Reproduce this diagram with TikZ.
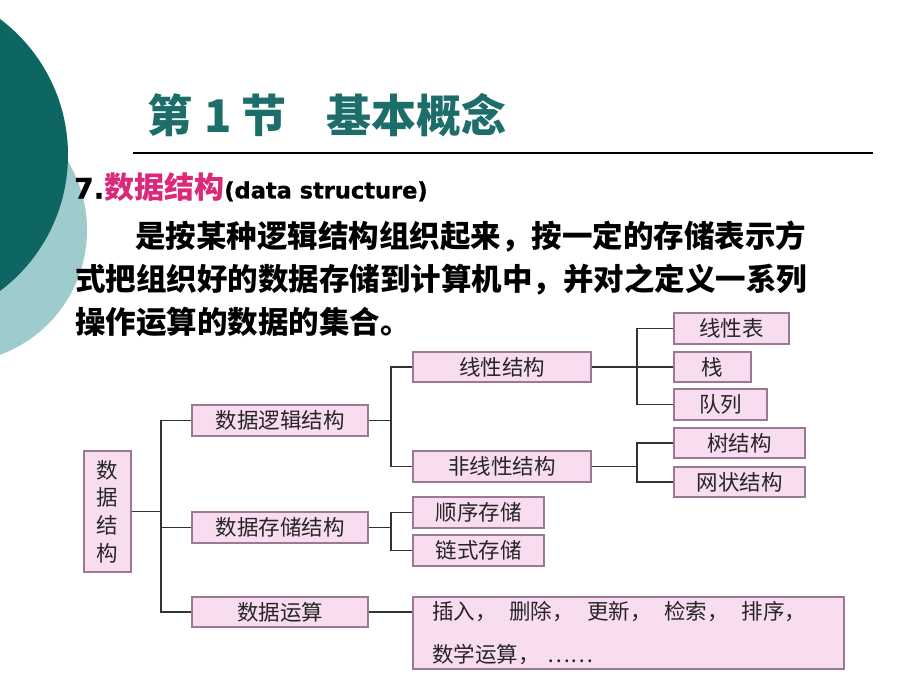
\documentclass[tikz,border=0pt]{standalone}
\usepackage{fontspec}
\newfontfamily\cjk{Noto Sans CJK SC}
\newfontfamily\latinb[FakeBold=1.2]{DejaVu Sans Bold}
\definecolor{darkteal}{HTML}{0E6662}
\definecolor{lightteal}{HTML}{9ECBCB}
\definecolor{titleteal}{HTML}{1D6E6A}
\definecolor{magentatxt}{HTML}{DC2878}
\definecolor{boxfill}{HTML}{F8DCF0}
\definecolor{boxline}{HTML}{9C7894}
\definecolor{linkcol}{HTML}{333333}
\tikzset{
  bx/.style={draw=boxline, fill=boxfill, line width=1.3pt, inner sep=0pt, font=\cjk\fontsize{21.5}{26}\selectfont, text=black!85},
  lk/.style={draw=linkcol, line width=1.2pt},
}
\begin{document}
\begin{tikzpicture}[x=1pt,y=-1pt]
\useasboundingbox (0,0) rectangle (920,690);
\clip (0,0) rectangle (920,690);
\fill[white] (0,0) rectangle (920,690);
% decorative circles
\fill[lightteal] (-46,230) circle (133);
\fill[darkteal] (-102,155) circle (170);
% title
\node[anchor=west, inner sep=0pt, text=titleteal, font=\cjk\bfseries\fontsize{45}{50}\selectfont] (title) at (147,115) {第\hspace{12pt}1\hspace{10pt}节\hspace{40pt}基本概念};
\coordinate (rl) at (133,153);
\coordinate (rr) at (873,153);
\draw[line width=1.1pt] (rl) -- (rr);
% heading
\node[anchor=west, inner sep=0pt] (head) at (74,187) {{\latinb\fontsize{28}{32}\selectfont 7.}{\cjk\bfseries\color{magentatxt}\fontsize{30}{34}\selectfont 数据结构}{\latinb\fontsize{22.5}{26}\selectfont (data structure)}};
% paragraph
\node[anchor=west, inner sep=0pt, font=\cjk\bfseries\fontsize{30.5}{36}\selectfont] (p1) at (135,237) {是按某种逻辑结构组织起来，按一定的存储表示方};
\node[anchor=west, inner sep=0pt, font=\cjk\bfseries\fontsize{30.5}{36}\selectfont] (p2) at (75,280) {式把组织好的数据存储到计算机中，并对之定义一系列};
\node[anchor=west, inner sep=0pt, font=\cjk\bfseries\fontsize{30.5}{36}\selectfont] (p3) at (75,322) {操作运算的数据的集合。};
% diagram boxes
\node[bx, minimum width=47pt, minimum height=121pt, align=center, font=\cjk\fontsize{21.5}{27.7}\selectfont] (root) at (107.5,511.5) {数\\据\\结\\构};
\node[bx, minimum width=176pt, minimum height=31pt] (logic) at (280,420.5) {数据逻辑结构};
\node[bx, minimum width=176pt, minimum height=31pt] (storage) at (280,527.5) {数据存储结构};
\node[bx, minimum width=176pt, minimum height=30pt] (ops) at (280,612) {数据运算};
\node[bx, minimum width=178pt, minimum height=30pt] (lin) at (502,367) {线性结构};
\node[bx, minimum width=178pt, minimum height=31pt] (nonlin) at (502,466.5) {非线性结构};
\node[bx, minimum width=115pt, minimum height=31pt] (lintab) at (731.5,328.5) {线性表};
\node[bx, minimum width=77pt, minimum height=30pt] (stack) at (712.5,367) {栈};
\node[bx, minimum width=93pt, minimum height=31pt] (queue) at (720.5,404.5) {队列};
\node[bx, minimum width=131pt, minimum height=30pt] (tree) at (739.5,443) {树结构};
\node[bx, minimum width=131pt, minimum height=30pt] (net) at (739.5,482) {网状结构};
\node[bx, minimum width=131pt, minimum height=31pt] (seq) at (478.5,512.5) {顺序存储};
\node[bx, minimum width=131pt, minimum height=31pt] (link) at (478.5,550.5) {链式存储};
\node[bx, minimum height=72pt, text width=393pt, inner xsep=19pt, align=left, font=\cjk\fontsize{21.5}{43}\selectfont] (opsbox) at (628.5,633) {插入，\hspace{13pt}删除，\hspace{13pt}更新，\hspace{13pt}检索，\hspace{13pt}排序，\\数学运算，\hspace{8pt}……};
% connectors
\coordinate (tr) at (161,511.5);
\draw[lk] (root.east) -- (tr);
\draw[lk] (logic.west) -| (tr) |- (ops.west);
\draw[lk] (storage.west) -- (storage.west -| tr);
\coordinate (lj) at (391,420.5);
\draw[lk] (logic.east) -- (lj);
\draw[lk] (lin.west) -| (lj) |- (nonlin.west);
\coordinate (lkk) at (637,367);
\draw[lk] (lin.east) -- (stack.west);
\draw[lk] (lintab.west) -| (lkk) |- (queue.west);
\coordinate (nk) at (637,466.5);
\draw[lk] (nonlin.east) -- (nk);
\draw[lk] (tree.west) -| (nk) |- (net.west);
\coordinate (sk) at (391,527.5);
\draw[lk] (storage.east) -- (sk);
\draw[lk] (seq.west) -| (sk) |- (link.west);
\draw[lk] (ops.east) -- (ops.east -| opsbox.west);
\end{tikzpicture}
\end{document}
